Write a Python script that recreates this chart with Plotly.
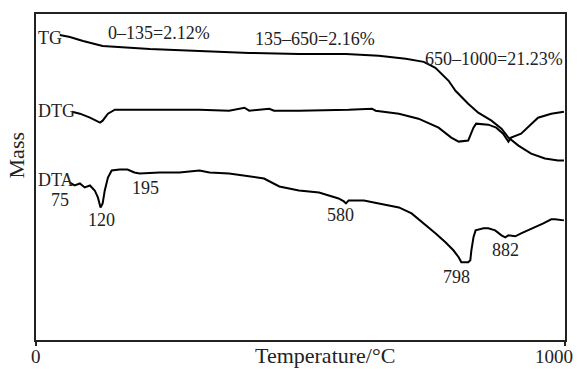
import plotly.graph_objects as go

# ---- data (temperature in °C, signal in arbitrary units) ----
tg_T = [45, 64, 89, 111, 126, 215, 309, 403, 497, 586, 648, 699, 733, 755, 780,
        793, 817, 836, 861, 880, 893, 912, 936, 962, 987, 998]
tg_v = [306, 304, 300, 297, 295, 292, 290, 288, 287, 287, 285, 282, 279, 273, 260,
        250, 237, 228, 220, 212, 203, 195, 187, 182, 180, 180]

dtg_T = [68, 83, 102, 115, 121, 126, 136, 149, 177, 215, 309, 365, 394, 403, 441,
         450, 497, 591, 635, 642, 686, 723, 761, 785, 799, 817, 827, 832, 855, 870,
         883, 893, 898, 917, 936, 949, 974, 993, 998]
dtg_v = [229, 227, 223, 220, 218, 220, 227, 231, 231, 231, 231, 230, 233, 230, 232,
         230, 230, 231, 232, 230, 227, 222, 213, 203, 199, 200, 213, 217, 216, 213,
         207, 199, 203, 207, 217, 223, 227, 229, 229]

dta_T = [64, 73, 83, 92, 102, 111, 117, 121, 122, 126, 130, 136, 143, 158, 173,
         186, 196, 234, 271, 309, 328, 365, 403, 431, 460, 497, 535, 572, 582, 586,
         591, 620, 648, 686, 710, 733, 755, 774, 789, 799, 804, 817, 821, 823, 827,
         831, 846, 855, 868, 880, 887, 893, 906, 917, 930, 949, 959, 974, 981, 998]
dta_v = [158, 155, 157, 153, 155, 150, 143, 135, 133, 137, 150, 163, 170, 171, 171,
         168, 167, 168, 168, 170, 168, 167, 164, 162, 154, 150, 148, 142, 139, 137,
         140, 140, 137, 133, 127, 117, 107, 98, 90, 83, 78, 78, 80, 90, 103,
         110, 112, 112, 110, 105, 103, 105, 104, 107, 110, 115, 117, 121, 121, 120]

label_text = ["TG", "DTG", "DTA", "0–135=2.12%", "135–650=2.16%", "650–1000=21.23%",
              "75", "120", "195", "580", "798", "882"]
label_x = [0, 0, 0, 233, 527, 1000, 45, 124, 207, 576, 795, 887]
label_y = [303, 230, 160, 308, 302, 282, 140, 120, 152, 125, 63, 90]
label_anchor = ["left", "left", "left", "center", "center", "right",
                "center", "center", "center", "center", "center", "center"]

x_ticks = [0, 1000]
x_tick_text = ["0", "1000"]

FONT = "Liberation Serif"
line_style = dict(color="black", width=2)

fig = go.Figure()
fig.add_trace(go.Scatter(x=tg_T, y=tg_v, mode="lines", line=line_style, name="TG"))
fig.add_trace(go.Scatter(x=dtg_T, y=dtg_v, mode="lines", line=line_style, name="DTG"))
fig.add_trace(go.Scatter(x=dta_T, y=dta_v, mode="lines", line=line_style, name="DTA"))

annotations = []
for t, x, y, a in zip(label_text, label_x, label_y, label_anchor):
    annotations.append(dict(x=x, y=y, xref="x", yref="y", text=t, showarrow=False,
                            xanchor=a, yanchor="middle",
                            font=dict(family=FONT, size=18, color="#222")))

# tick labels
annotations.append(dict(x=0, y=-0.052, xref="x", yref="paper", text=x_tick_text[0],
                        showarrow=False, xanchor="center", yanchor="middle",
                        font=dict(family=FONT, size=19, color="#222")))
annotations.append(dict(x=1000, y=-0.052, xref="x", yref="paper", text=x_tick_text[1],
                        showarrow=False, xanchor="right", yanchor="middle", xshift=10,
                        font=dict(family=FONT, size=19, color="#222")))
# axis titles
annotations.append(dict(x=0.546, y=-0.0887, xref="paper", yref="paper",
                        text="Temperature/°C", showarrow=False, borderpad=0,
                        xanchor="center", yanchor="bottom",
                        font=dict(family=FONT, size=22, color="#222")))
annotations.append(dict(x=-0.036, y=0.566, xref="paper", yref="paper",
                        text="Mass", showarrow=False, textangle=-90,
                        xanchor="center", yanchor="middle",
                        font=dict(family=FONT, size=22, color="#222")))

fig.update_layout(
    width=579, height=369,
    margin=dict(l=36, r=12, t=13, b=29),
    paper_bgcolor="white", plot_bgcolor="white",
    showlegend=False,
    annotations=annotations,
    xaxis=dict(range=[0, 1000], tickvals=x_ticks, showticklabels=False,
               ticks="outside", ticklen=4, tickcolor="#222", tickwidth=1.5,
               showline=True, linecolor="#222", linewidth=1.5, mirror=True,
               showgrid=False, zeroline=False),
    yaxis=dict(range=[0, 327], showticklabels=False, ticks="",
               showline=True, linecolor="#222", linewidth=1.5, mirror=True,
               showgrid=False, zeroline=False),
)

fig.write_html("out.html", config={"displayModeBar": False},
               post_script="document.body.style.margin='0';document.body.style.overflow='hidden';")
